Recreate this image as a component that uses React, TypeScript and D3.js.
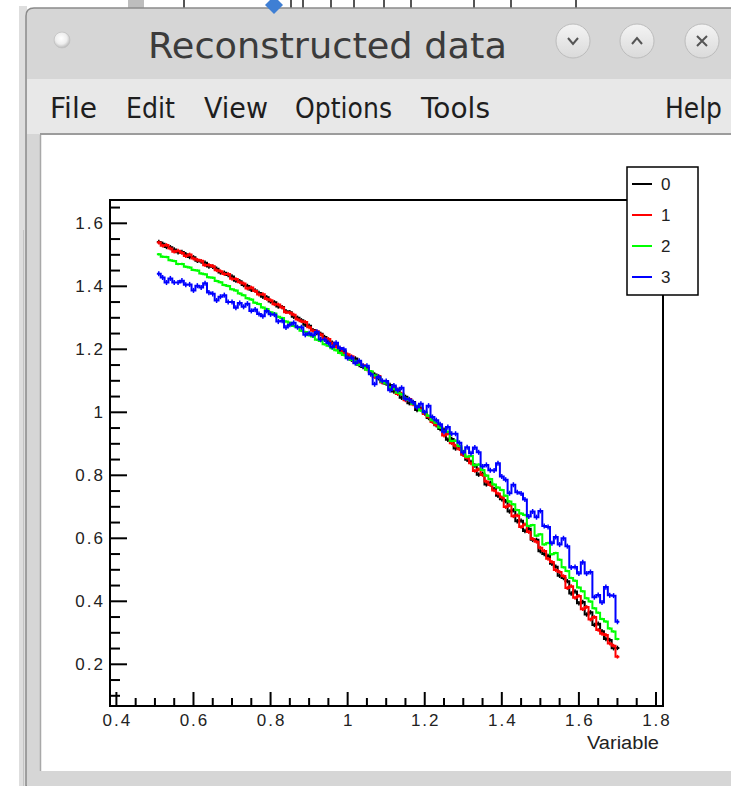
import React from "react";
import * as d3 from "d3";

// ---------- data ----------
const BIN_START = 0.505;
const BIN_WIDTH = 0.01;

const series0 = [
  1.541, 1.535, 1.525, 1.524, 1.517, 1.508, 1.509, 1.502, 1.493, 1.492,
  1.481, 1.479, 1.475, 1.463, 1.462, 1.456, 1.444, 1.443, 1.436, 1.431,
  1.418, 1.416, 1.404, 1.401, 1.389, 1.387, 1.379, 1.367, 1.365, 1.352,
  1.349, 1.336, 1.334, 1.321, 1.318, 1.303, 1.300, 1.292, 1.278, 1.275,
  1.261, 1.252, 1.249, 1.239, 1.225, 1.221, 1.212, 1.198, 1.194, 1.179,
  1.167, 1.171, 1.150, 1.144, 1.141, 1.127, 1.120, 1.108, 1.096, 1.091,
  1.087, 1.066, 1.071, 1.046, 1.049, 1.029, 1.033, 1.007, 1.012, 0.997,
  0.982, 0.975, 0.959, 0.947, 0.945, 0.913, 0.915, 0.885, 0.888, 0.866,
  0.849, 0.842, 0.831, 0.802, 0.805, 0.771, 0.776, 0.757, 0.735, 0.724,
  0.718, 0.685, 0.689, 0.654, 0.656, 0.623, 0.630, 0.595, 0.595, 0.559,
  0.550, 0.544, 0.519, 0.510, 0.481, 0.474, 0.464, 0.425, 0.431, 0.394,
  0.398, 0.358, 0.365, 0.325, 0.329, 0.305, 0.280, 0.277, 0.251, 0.252,
];

const series1 = [
  1.539, 1.529, 1.531, 1.520, 1.510, 1.513, 1.506, 1.496, 1.501, 1.488,
  1.484, 1.481, 1.467, 1.468, 1.464, 1.451, 1.448, 1.439, 1.439, 1.424,
  1.423, 1.413, 1.409, 1.393, 1.396, 1.385, 1.374, 1.375, 1.360, 1.356,
  1.343, 1.342, 1.333, 1.318, 1.316, 1.310, 1.295, 1.289, 1.287, 1.270,
  1.259, 1.257, 1.247, 1.234, 1.233, 1.218, 1.208, 1.204, 1.186, 1.184,
  1.178, 1.158, 1.159, 1.149, 1.136, 1.127, 1.112, 1.115, 1.095, 1.095,
  1.075, 1.080, 1.058, 1.059, 1.038, 1.042, 1.025, 1.016, 1.009, 0.995,
  0.986, 0.969, 0.960, 0.954, 0.926, 0.932, 0.902, 0.894, 0.883, 0.865,
  0.855, 0.838, 0.814, 0.819, 0.801, 0.780, 0.769, 0.752, 0.742, 0.730,
  0.699, 0.705, 0.670, 0.673, 0.636, 0.644, 0.620, 0.598, 0.589, 0.570,
  0.560, 0.535, 0.525, 0.499, 0.493, 0.480, 0.442, 0.448, 0.411, 0.417,
  0.375, 0.382, 0.342, 0.350, 0.309, 0.297, 0.293, 0.266, 0.259, 0.224,
];

const series2 = [
  1.502, 1.494, 1.493, 1.483, 1.480, 1.471, 1.471, 1.462, 1.460, 1.452,
  1.450, 1.441, 1.438, 1.429, 1.427, 1.417, 1.413, 1.404, 1.401, 1.391,
  1.387, 1.377, 1.372, 1.362, 1.358, 1.348, 1.344, 1.333, 1.328, 1.318,
  1.314, 1.303, 1.299, 1.288, 1.284, 1.274, 1.270, 1.259, 1.255, 1.245,
  1.241, 1.230, 1.226, 1.216, 1.211, 1.203, 1.197, 1.188, 1.182, 1.173,
  1.167, 1.163, 1.151, 1.147, 1.135, 1.130, 1.117, 1.111, 1.097, 1.092,
  1.079, 1.074, 1.062, 1.057, 1.044, 1.039, 1.026, 1.020, 1.006, 1.000,
  0.989, 0.975, 0.967, 0.952, 0.940, 0.938, 0.909, 0.910, 0.893, 0.877,
  0.859, 0.861, 0.832, 0.834, 0.817, 0.799, 0.788, 0.771, 0.761, 0.753,
  0.735, 0.717, 0.708, 0.690, 0.679, 0.674, 0.639, 0.642, 0.608, 0.613,
  0.580, 0.585, 0.549, 0.553, 0.532, 0.508, 0.496, 0.474, 0.465, 0.444,
  0.432, 0.410, 0.399, 0.378, 0.364, 0.344, 0.336, 0.314, 0.304, 0.280,
];

const series3 = [
  1.440, 1.428, 1.412, 1.425, 1.412, 1.412, 1.418, 1.405, 1.406, 1.387,
  1.402, 1.396, 1.410, 1.380, 1.376, 1.355, 1.367, 1.372, 1.350, 1.350,
  1.332, 1.347, 1.335, 1.345, 1.322, 1.326, 1.312, 1.305, 1.322, 1.311,
  1.310, 1.288, 1.291, 1.269, 1.278, 1.284, 1.270, 1.270, 1.246, 1.251,
  1.245, 1.256, 1.231, 1.231, 1.220, 1.207, 1.221, 1.204, 1.200, 1.172,
  1.174, 1.156, 1.164, 1.148, 1.148, 1.121, 1.089, 1.113, 1.100, 1.099,
  1.070, 1.085, 1.070, 1.078, 1.043, 1.041, 1.031, 1.016, 1.027, 1.000,
  1.021, 0.985, 0.975, 0.962, 0.938, 0.953, 0.932, 0.932, 0.903, 0.872,
  0.889, 0.870, 0.888, 0.873, 0.828, 0.833, 0.816, 0.815, 0.838, 0.796,
  0.786, 0.743, 0.770, 0.746, 0.742, 0.723, 0.669, 0.685, 0.667, 0.687,
  0.639, 0.636, 0.584, 0.604, 0.580, 0.600, 0.575, 0.507, 0.509, 0.488,
  0.524, 0.488, 0.493, 0.413, 0.420, 0.396, 0.445, 0.419, 0.418, 0.335,
];

const seriesValues = [series0, series1, series2, series3];
const seriesNames = ["0", "1", "2", "3"];
const seriesColors = ["#000000", "#ff0000", "#00ff00", "#0000ff"];
const seriesErrors = [0.007, 0.006, 0.004, 0.008];

const xMajorTicks = [0.4, 0.6, 0.8, 1, 1.2, 1.4, 1.6, 1.8];
const yMajorTicks = [0.2, 0.4, 0.6, 0.8, 1, 1.2, 1.4, 1.6];
const xDomain = [0.3834, 1.8182];
const yDomain = [0.0676, 1.674];

const menuItems = ["File", "Edit", "View", "Options", "Tools"];
const menuX = [50, 126, 204, 295, 421];
const menuLen = [47, 49, 64, 97, 69];

const topMarks = [183, 290, 302, 330, 353, 383, 410, 473, 510, 575];

// ---------- layout ----------
const W = 731;
const H = 786;
const FL = 110, FR = 663, FT = 200, FB = 706;

export default function App() {
  const x = d3.scaleLinear().domain(xDomain).range([FL, FR]);
  const y = d3.scaleLinear().domain(yDomain).range([FB, FT]);

  const xMinor = d3.range(0.4, 1.8001, 0.05).filter((v) => !xMajorTicks.some((m) => Math.abs(m - v) < 1e-6));
  const yMinor = d3.range(0.1, 1.6501, 0.05).filter((v) => !yMajorTicks.some((m) => Math.abs(m - v) < 1e-6));

  const histLine = d3
    .line<[number, number]>()
    .x((d) => x(d[0]))
    .y((d) => y(d[1]))
    .curve(d3.curveStepAfter);

  const paths = seriesValues.map((vals) => {
    const pts: [number, number][] = vals.map((v, i) => [BIN_START + i * BIN_WIDTH, v]);
    pts.push([BIN_START + vals.length * BIN_WIDTH, vals[vals.length - 1]]);
    return histLine(pts) as string;
  });

  const plotFont = "'Liberation Sans', Arial, Helvetica, sans-serif";
  const uiFont = "'DejaVu Sans', 'Noto Sans', sans-serif";

  const btns = [
    { cx: 573, kind: "down" },
    { cx: 637, kind: "up" },
    { cx: 702, kind: "close" },
  ];

  return (
    <svg
      width={W}
      height={H}
      viewBox={`0 0 ${W} ${H}`}
      style={{ position: "absolute", left: 0, top: 0, display: "block" }}
    >
      <defs>
        <radialGradient id="dot" cx="45%" cy="40%" r="60%">
          <stop offset="0%" stopColor="#ffffff" />
          <stop offset="60%" stopColor="#eeeeee" />
          <stop offset="100%" stopColor="#b9b9b9" />
        </radialGradient>
        <linearGradient id="btn" x1="0" y1="0" x2="0" y2="1">
          <stop offset="0%" stopColor="#f4f4f4" />
          <stop offset="100%" stopColor="#dadada" />
        </linearGradient>
      </defs>

      {/* page background */}
      <rect x={0} y={0} width={W} height={H} fill="#ffffff" />

      {/* background windows fragments */}
      {topMarks.map((mx, i) => (
        <rect key={i} x={mx} y={0} width={2} height={8} fill="#555" />
      ))}
      <rect x={128} y={0} width={16} height={8} fill="#bdbdbd" />

      {/* left strip */}
      <rect x={19} y={6} width={8} height={H} fill="#dedede" />
      <line x1={23.5} y1={230} x2={23.5} y2={H} stroke="#c4c4c4" strokeWidth={1} />

      {/* window */}
      <path
        d={`M26,${H} L26,16 Q26,8 34,8 L${W + 5},8 L${W + 5},${H} Z`}
        fill="#d6d6d6"
        stroke="#8a8a8a"
        strokeWidth={1.5}
      />
      <polygon points="274,-4 283,5 274,14 265,5" fill="#3f7fd4" />
      {/* menu bar */}
      <rect x={27} y={79} width={W - 27} height={55} fill="#e8e8e8" />
      <line x1={40} y1={134} x2={W} y2={134} stroke="#9c9c9c" strokeWidth={2} />
      {/* canvas */}
      <rect x={40} y={135} width={W - 40} height={636} fill="#ffffff" />
      <line x1={40.5} y1={135} x2={40.5} y2={771} stroke="#a8a8a8" strokeWidth={1.5} />
      <rect x={27} y={771} width={W - 27} height={H - 771} fill="#d6d6d6" />

      {/* title bar contents */}
      <circle cx={62} cy={40} r={8} fill="url(#dot)" stroke="#c2c2c2" strokeWidth={0.8} />
      <text
        x={148}
        y={58}
        fontFamily={uiFont}
        fontSize={35}
        fill="#3b3b3b"
        textLength={359}
        lengthAdjust="spacingAndGlyphs"
      >
        Reconstructed data
      </text>
      {btns.map((b) => (
        <g key={b.kind}>
          <circle cx={b.cx} cy={41} r={17} fill="url(#btn)" stroke="#bcbcbc" strokeWidth={1} />
          {b.kind === "down" && (
            <path d={`M${b.cx - 5},${38} L${b.cx},${44} L${b.cx + 5},${38}`} fill="none" stroke="#555" strokeWidth={2} />
          )}
          {b.kind === "up" && (
            <path d={`M${b.cx - 5},${44} L${b.cx},${38} L${b.cx + 5},${44}`} fill="none" stroke="#555" strokeWidth={2} />
          )}
          {b.kind === "close" && (
            <path
              d={`M${b.cx - 5},${36} L${b.cx + 5},${46} M${b.cx + 5},${36} L${b.cx - 5},${46}`}
              fill="none"
              stroke="#555"
              strokeWidth={2}
            />
          )}
        </g>
      ))}

      {/* menu */}
      {menuItems.map((m, i) => (
        <text
          key={m}
          x={menuX[i]}
          y={118}
          fontFamily={uiFont}
          fontSize={28}
          fill="#1e1e1e"
          textLength={menuLen[i]}
          lengthAdjust="spacingAndGlyphs"
        >
          {m}
        </text>
      ))}
      <text x={665} y={118} fontFamily={uiFont} fontSize={28} fill="#1e1e1e" textLength={57} lengthAdjust="spacingAndGlyphs">
        Help
      </text>

      {/* histograms */}
      <g>
        {paths.map((p, si) => (
          <g key={si}>
            <path d={p} fill="none" stroke={seriesColors[si]} strokeWidth={2} />
            {seriesValues[si].map((v, i) => {
              const cx = x(BIN_START + (i + 0.5) * BIN_WIDTH);
              return (
                <line
                  key={i}
                  x1={cx}
                  x2={cx}
                  y1={y(v - seriesErrors[si])}
                  y2={y(v + seriesErrors[si])}
                  stroke={seriesColors[si]}
                  strokeWidth={1.5}
                />
              );
            })}
          </g>
        ))}
      </g>

      {/* frame */}
      <rect x={FL} y={FT} width={FR - FL} height={FB - FT} fill="none" stroke="#000" strokeWidth={2} />

      {/* y axis ticks */}
      {yMajorTicks.map((t) => (
        <g key={"ym" + t}>
          <line x1={FL} x2={FL + 17} y1={y(t)} y2={y(t)} stroke="#000" strokeWidth={2} />
          <text
            x={105}
            y={y(t) + 6}
            textAnchor="end"
            fontFamily={plotFont}
            fontSize={17}
            letterSpacing={2}
            fill="#222"
          >
            {String(t)}
          </text>
        </g>
      ))}
      {yMinor.map((t) => (
        <line key={"yn" + t} x1={FL} x2={FL + 10} y1={y(t)} y2={y(t)} stroke="#000" strokeWidth={2} />
      ))}

      {/* x axis ticks */}
      {xMajorTicks.map((t) => (
        <g key={"xm" + t}>
          <line x1={x(t)} x2={x(t)} y1={FB} y2={FB - 14} stroke="#000" strokeWidth={2} />
          <text
            x={x(t) + 1}
            y={726}
            textAnchor="middle"
            fontFamily={plotFont}
            fontSize={17}
            letterSpacing={2}
            fill="#222"
          >
            {String(t)}
          </text>
        </g>
      ))}
      {xMinor.map((t) => (
        <line key={"xn" + t} x1={x(t)} x2={x(t)} y1={FB} y2={FB - 8} stroke="#000" strokeWidth={2} />
      ))}
      <text
        x={659}
        y={749}
        textAnchor="end"
        fontFamily={plotFont}
        fontSize={18}
        fill="#222"
        textLength={72}
        lengthAdjust="spacingAndGlyphs"
      >
        Variable
      </text>

      {/* legend */}
      <rect x={627} y={167} width={71} height={128} fill="#ffffff" stroke="#000" strokeWidth={1.5} />
      {seriesNames.map((n, i) => {
        const ly = 184 + i * 31;
        return (
          <g key={n}>
            <line x1={632} x2={652} y1={ly} y2={ly} stroke={seriesColors[i]} strokeWidth={2} />
            <text x={661} y={ly + 6} fontFamily={plotFont} fontSize={17} fill="#222">
              {n}
            </text>
          </g>
        );
      })}
    </svg>
  );
}
